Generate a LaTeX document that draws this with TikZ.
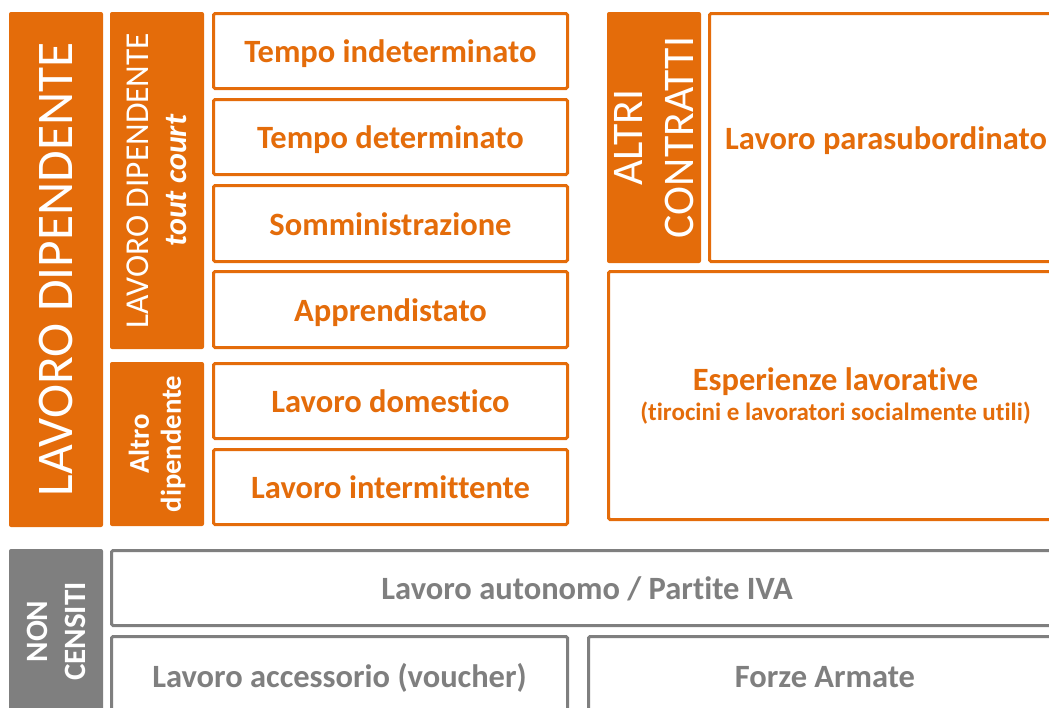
\documentclass[tikz,border=0pt]{standalone}
\usepackage{fontspec}
\setmainfont{Carlito}[Ligatures={NoCommon,NoRare}]
\definecolor{org}{HTML}{E46C0A}
\definecolor{gry}{HTML}{7F7F7F}
\begin{document}
\begin{tikzpicture}[x=1pt,y=-1pt,
  fillbox/.style={fill=#1, draw=none, rounded corners=2pt, inner sep=0pt, outer sep=0pt, anchor=north west},
  linebox/.style={draw=#1, fill=white, line width=3pt, rounded corners=1.5pt, inner sep=0pt, outer sep=0pt, anchor=north west, text=#1, font=\bfseries\fontsize{32.5}{37}\selectfont, align=center, text height=23.4pt, text depth=0pt},
  vlabel/.style={rotate=90, text=white, align=center, inner sep=0pt}]
\useasboundingbox (0,0) rectangle (1049,707);
\clip (0,0) rectangle (1049,707);
% filled headers
\node[fillbox=org, minimum width=94pt, minimum height=515pt] (ld) at (9,12) {};
\node[fillbox=org, minimum width=94pt, minimum height=337pt] (ldtc) at (110,12) {};
\node[fillbox=org, minimum width=94pt, minimum height=164pt] (altro) at (110,362) {};
\node[fillbox=org, minimum width=94pt, minimum height=251pt] (altri) at (607,12) {};
\node[fillbox=gry, minimum width=94pt, minimum height=175pt] (nc) at (9,549) {};
% header labels
\node[vlabel, font=\fontsize{51.4}{60}\selectfont] (ldt) at (ld.center) {LAVORO DIPENDENTE};
\node[vlabel, font=\fontsize{33.4}{38}\selectfont] (ldtct) at (ldtc.center) {LAVORO DIPENDENTE\\{\fontsize{32}{38}\selectfont\textbf{\textit{tout court}}}};
\node[vlabel, font=\bfseries\fontsize{28.7}{32}\selectfont] (altrot) at (altro.center) {Altro\\dipendente};
\node[vlabel, font=\fontsize{43.7}{51}\selectfont] (altrit) at (altri.center) {ALTRI\\CONTRATTI};
\node[vlabel, font=\bfseries\fontsize{31}{38}\selectfont] (nct) at ([yshift=5pt]nc.center) {NON\\CENSITI};
% orange boxes
\node[linebox=org, minimum width=354pt, minimum height=75pt] (ti) at (213.5,13.5) {Tempo indeterminato};
\node[linebox=org, minimum width=354pt, minimum height=75pt] (td) at (213.5,99.5) {Tempo determinato};
\node[linebox=org, minimum width=354pt, minimum height=76pt] (so) at (213.5,185.5) {Somministrazione};
\node[linebox=org, minimum width=354pt, minimum height=76pt] (ap) at (213.5,271.5) {Apprendistato};
\node[linebox=org, minimum width=354pt, minimum height=75pt] (dom) at (213.5,363.5) {Lavoro domestico};
\node[linebox=org, minimum width=354pt, minimum height=75pt] (int) at (213.5,449.5) {Lavoro intermittente};
\node[linebox=org, minimum width=353pt, minimum height=248pt] (par) at (709.5,13.5) {Lavoro parasubordinato};
\node[linebox=org, minimum width=454pt, minimum height=248pt, font=\bfseries\fontsize{32.5}{30}\selectfont, text height=, text depth=] (esp) at (608.5,271.5) {Esperienze lavorative\\{\fontsize{25}{30}\selectfont(tirocini e lavoratori socialmente utili)}};
% grey boxes
\node[linebox=gry, minimum width=951pt, minimum height=75pt] (aut) at (111.5,550.5) {Lavoro autonomo / Partite IVA};
\node[linebox=gry, minimum width=456pt, minimum height=78pt] (acc) at (111.5,636.5) {Lavoro accessorio (voucher)};
\node[linebox=gry, minimum width=473pt, minimum height=78pt] (fa) at (588.5,636.5) {Forze Armate};
\end{tikzpicture}
\end{document}
